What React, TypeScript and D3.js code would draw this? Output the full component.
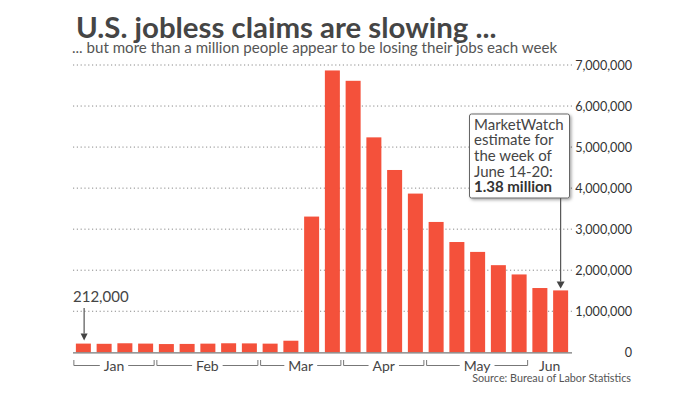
import React, { useLayoutEffect, useRef, useState } from 'react';
import * as d3 from 'd3';

// weekly initial jobless claims, week ending (2020)
const weeks = [
  'Jan 4', 'Jan 11', 'Jan 18', 'Jan 25',
  'Feb 1', 'Feb 8', 'Feb 15', 'Feb 22', 'Feb 29',
  'Mar 7', 'Mar 14', 'Mar 21', 'Mar 28',
  'Apr 4', 'Apr 11', 'Apr 18', 'Apr 25',
  'May 2', 'May 9', 'May 16', 'May 23', 'May 30',
  'Jun 6', 'Jun 13',
];
const claims = [
  212000, 207000, 220000, 212000,
  201000, 204000, 211000, 220000, 217000,
  211000, 282000, 3307000, 6867000,
  6615000, 5237000, 4442000, 3867000,
  3176000, 2687000, 2446000, 2123000, 1897000,
  1566000, 1508000,
];
const months = ['Jan', 'Feb', 'Mar', 'Apr', 'May', 'Jun'];
const yTicks = [0, 1000000, 2000000, 3000000, 4000000, 5000000, 6000000, 7000000];
const boxLines = ['MarketWatch', 'estimate for', 'the week of', 'June 14-20:'];
const boxBold = '1.38 million';

const W = 700;
const H = 393;
const FONT = 'Lato, "Open Sans", sans-serif';
const RED = '#f4513b';
const INK = '#454545';

export default function App() {
  const x = d3.scaleBand<string>().domain(weeks).range([73, 571]).paddingInner(0.277).paddingOuter(0.1385);
  const y = d3.scaleLinear().domain([0, 7000000]).range([352.3, 65]);
  const fmt = d3.format(',');

  const labelRefs = useRef<(SVGTextElement | null)[]>([]);
  const [widths, setWidths] = useState<number[]>(months.map(() => 24));

  useLayoutEffect(() => {
    const w = labelRefs.current.map(el => (el ? el.getComputedTextLength() : 24));
    setWidths(w);
  }, []);

  const monthSpans = months.map(m => {
    const ws = weeks.filter(wk => wk.startsWith(m));
    const x0 = x(ws[0]) as number;
    const x1 = (x(ws[ws.length - 1]) as number) + x.bandwidth();
    return { m, x0: x0 - 2, x1: x1 + 1 };
  });

  const first = weeks[0];
  const last = weeks[weeks.length - 1];
  const firstX = (x(first) as number) + x.bandwidth() * 0.55;
  const lastX = (x(last) as number) + x.bandwidth() * 0.5;
  const lastTop = y(claims[claims.length - 1]);

  return (
    <svg width={W} height={H} style={{ position: 'absolute', left: 0, top: 0, background: '#fff', fontFamily: FONT }}>
      <defs>
        <filter id="shadow" x="-20%" y="-20%" width="140%" height="140%">
          <feDropShadow dx="1.5" dy="1.5" stdDeviation="1.5" floodColor="#000" floodOpacity="0.35" />
        </filter>
      </defs>

      <text x={76} y={37.5} fontSize={29.4} fontWeight={700} fill={INK}>U.S. jobless claims are slowing ...</text>
      <text x={72} y={52.5} fontSize={15.1} fill="#555">... but more than a million people appear to be losing their jobs each week</text>

      {/* gridlines + right axis */}
      {yTicks.map(t => (
        <g key={t}>
          {t > 0 && (
            <line x1={73} x2={574} y1={y(t)} y2={y(t)} stroke="#8a8a8a" strokeWidth={1} strokeDasharray="1.2 2.6" />
          )}
          <text x={632} y={y(t)} dy="0.36em" textAnchor="end" fontSize={12.6} fill="#333">{fmt(t)}</text>
        </g>
      ))}

      {/* bars */}
      {weeks.map((wk, i) => (
        <rect key={wk} x={x(wk)} y={y(claims[i])} width={x.bandwidth()} height={y(0) - y(claims[i])} fill={RED} />
      ))}

      <line x1={73} x2={572} y1={y(0) + 0.5} y2={y(0) + 0.5} stroke="#777" strokeWidth={1.2} />

      {/* month brackets */}
      {monthSpans.map((s, i) => {
        const cx = (s.x0 + s.x1) / 2;
        const half = widths[i] / 2 + 4;
        const showBracket = s.x1 - s.x0 > widths[i] + 20;
        return (
          <g key={s.m}>
            {showBracket && (
              <path
                d={`M${s.x0},360V365.5H${cx - half}M${cx + half},365.5H${s.x1}V360`}
                fill="none"
                stroke="#777"
                strokeWidth={1}
              />
            )}
            <text
              ref={el => { labelRefs.current[i] = el; }}
              x={cx}
              y={370.5}
              textAnchor="middle"
              fontSize={14}
              fill={INK}
            >{s.m}</text>
          </g>
        );
      })}

      <text x={631} y={382} textAnchor="end" fontSize={10.8} fill="#555">Source: Bureau of Labor Statistics</text>

      {/* first-week annotation */}
      <text x={73} y={302} fontSize={15} fill={INK}>{fmt(claims[0])}</text>
      <line x1={firstX} x2={firstX} y1={308} y2={y(claims[0]) - 10} stroke="#555" strokeWidth={1.2} />
      <path d={`M${firstX - 3.5},${y(claims[0]) - 10}L${firstX + 3.5},${y(claims[0]) - 10}L${firstX},${y(claims[0]) - 3}Z`} fill="#444" />

      {/* estimate callout */}
      <rect x={469.5} y={114} width={100} height={84} rx={2} fill="#fff" stroke="#666" strokeWidth={1} filter="url(#shadow)" />
      {boxLines.map((l, i) => (
        <text key={l} x={474} y={129.5 + i * 15.7} fontSize={15} fill={INK}>{l}</text>
      ))}
      <text x={474} y={129.5 + boxLines.length * 15.7} fontSize={15} fontWeight={700} fill="#333">{boxBold}</text>
      <line x1={lastX} x2={lastX} y1={198} y2={lastTop - 9} stroke="#555" strokeWidth={1.2} />
      <path d={`M${lastX - 4},${lastTop - 9}L${lastX + 4},${lastTop - 9}L${lastX},${lastTop - 2}Z`} fill="#444" />
    </svg>
  );
}
